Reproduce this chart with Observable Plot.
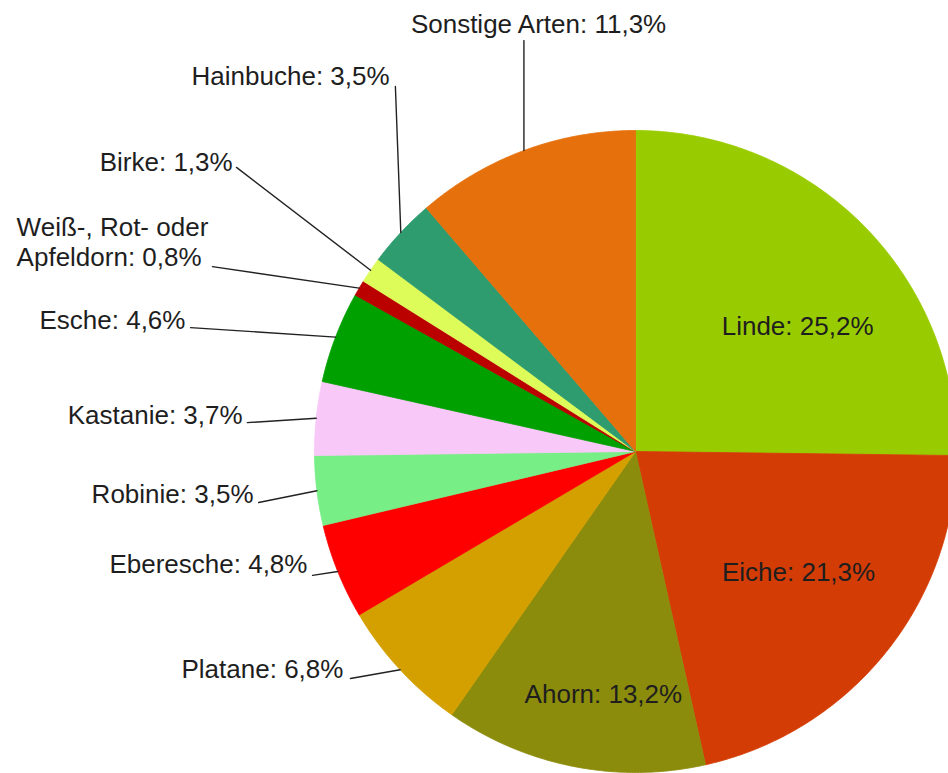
<!DOCTYPE html>
<html><head><meta charset="utf-8">
<script src="https://cdn.jsdelivr.net/npm/d3@7"></script>
<script src="https://cdn.jsdelivr.net/npm/@observablehq/plot@0.6"></script>
<style>html,body{margin:0;padding:0;background:#fff;} #chart{width:948px;height:773px;overflow:hidden;}</style>
</head><body><div id="chart"></div>
<script>
// ---- data ----
const species = ["Linde","Eiche","Ahorn","Platane","Eberesche","Robinie","Kastanie","Esche","Weiß-, Rot- oder Apfeldorn","Birke","Hainbuche","Sonstige Arten"];
const shares  = [25.2, 21.3, 13.2, 6.8, 4.8, 3.5, 3.7, 4.6, 0.8, 1.3, 3.5, 11.3];
const colors  = ["#99cc00","#d43c06","#8c8c0c","#d4a000","#ff0000","#78ee86","#f8c8f8","#00a000","#bb0000","#ddfc5a","#2f9c70","#e5700c"];

// ---- annotation layout (pie radius = 1, centre = 0,0) ----
const insideLabels = ["Linde","Eiche","Ahorn"];
const labelPos = {
  "Linde":          [0.505, 0.364],
  "Eiche":          [0.508, -0.402],
  "Ahorn":          [-0.100, -0.785],
  "Sonstige Arten": [-0.302, 1.305],
  "Hainbuche":      [-0.766, 1.143],
  "Birke":          [-1.255, 0.875],
  "Weiß-, Rot- oder Apfeldorn": [-1.928, 0.579],
  "Esche":          [-1.402, 0.383],
  "Kastanie":       [-1.224, 0.087],
  "Robinie":        [-1.190, -0.159],
  "Eberesche":      [-1.022, -0.380],
  "Platane":        [-0.910, -0.707]
};
const leaderKnee = {
  "Sonstige Arten": [null, 1.280],
  "Hainbuche":      [-0.748, 1.137],
  "Birke":          [-1.243, 0.885],
  "Weiß-, Rot- oder Apfeldorn": [-1.318, 0.576],
  "Esche":          [-1.386, 0.386],
  "Kastanie":       [-1.209, 0.090],
  "Robinie":        [-1.174, -0.159],
  "Eberesche":      [-1.006, -0.386],
  "Platane":        [-0.888, -0.707]
};

const W = 948, H = 773, CX = 635, CY = 451, RPX = 321;

// ---- geometry from data ----
const total = d3.sum(shares);
let acc = 0;
const slices = species.map((name, i) => {
  const a0 = acc / total * 2 * Math.PI;
  acc += shares[i];
  const a1 = acc / total * 2 * Math.PI;
  return {name, value: shares[i], a0, a1, mid: (a0 + a1) / 2};
});
const polyPts = [];
for (const s of slices) {
  polyPts.push({name: s.name, x: 0, y: 0});
  const n = Math.max(2, Math.ceil((s.a1 - s.a0) / (Math.PI / 360)));
  for (let k = 0; k <= n; k++) {
    const a = s.a0 + (s.a1 - s.a0) * k / n;
    polyPts.push({name: s.name, x: Math.sin(a), y: Math.cos(a)});
  }
  polyPts.push({name: s.name, x: 0, y: 0});
}
const fmt = v => v.toFixed(1).replace(".", ",") + "%";
const labels = slices.map(s => ({
  name: s.name,
  text: s.name.replace(" oder ", " oder\n") + ": " + fmt(s.value),
  x: labelPos[s.name][0], y: labelPos[s.name][1]
}));
const leaderPts = [];
for (const s of slices) {
  if (!leaderKnee[s.name]) continue;
  const ex = Math.sin(s.mid), ey = Math.cos(s.mid);
  const k = leaderKnee[s.name];
  leaderPts.push({name: s.name, x: k[0] == null ? ex : k[0], y: k[1]});
  leaderPts.push({name: s.name, x: ex, y: ey});
}
const isIn = d => insideLabels.includes(d.name);
const endAnchored = labels.filter(d => !isIn(d) && d.name !== "Sonstige Arten" && !d.name.startsWith("Weiß"));
const startAnchored = labels.filter(d => d.name.startsWith("Weiß"));
const midAnchored = labels.filter(d => isIn(d) || d.name === "Sonstige Arten");

const font = {fontSize: 26, fill: "#1e1e1e", lineAnchor: "bottom", lineHeight: 1.154};

const chart = Plot.plot({
  width: W, height: H,
  margin: 0,
  x: {domain: [-CX / RPX, (W - CX) / RPX], axis: null},
  y: {domain: [-(H - CY) / RPX, CY / RPX], axis: null},
  color: {type: "ordinal", domain: species, range: colors},
  style: {fontFamily: "'Liberation Sans', Arial, sans-serif", background: "#fff", overflow: "hidden"},
  marks: [
    Plot.line(polyPts, {x: "x", y: "y", z: "name", fill: "name", stroke: "name", strokeWidth: 0.8}),
    Plot.line(leaderPts, {x: "x", y: "y", z: "name", stroke: "#222", strokeWidth: 1.4}),
    Plot.text(endAnchored, {x: "x", y: "y", text: "text", textAnchor: "end", ...font}),
    Plot.text(startAnchored, {x: "x", y: "y", text: "text", textAnchor: "start", ...font}),
    Plot.text(midAnchored, {x: "x", y: "y", text: "text", textAnchor: "middle", ...font})
  ]
});
document.getElementById("chart").appendChild(chart);
</script>
</body></html>
